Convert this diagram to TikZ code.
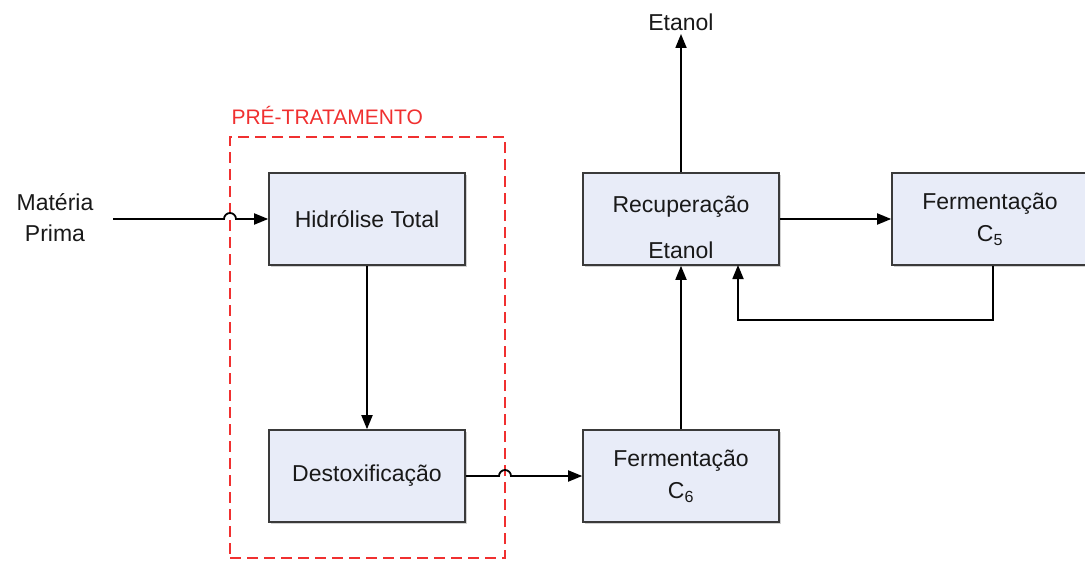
\documentclass[tikz,border=0pt]{standalone}
\usepackage{fontspec}
\setmainfont{Liberation Sans}
\usetikzlibrary{arrows.meta,shadows}
\definecolor{boxfill}{HTML}{E8ECF8}
\definecolor{boxline}{HTML}{3A3A3A}
\definecolor{pretrat}{HTML}{F03030}
\begin{document}
\begin{tikzpicture}[x=1pt,y=-1pt,
  every node/.style={font=\fontsize{23}{28}\selectfont, text=black!90},
  procbox/.style={draw=boxline, line width=1.6pt, fill=boxfill, minimum width=196pt, minimum height=92pt,
    align=center, inner sep=0pt, drop shadow={shadow xshift=2pt, shadow yshift=-2pt, fill=black!30, opacity=0.6}},
  flow/.style={line width=1.8pt, draw=black, -{Triangle[length=14pt,width=11pt]}}]
\useasboundingbox (0,0) rectangle (1085,562);

% pretreatment region
\node[draw=pretrat, dash pattern=on 11pt off 6pt, line width=2.4pt, minimum width=275pt, minimum height=421pt, inner sep=0pt] (pre) at (367.5,347.5) {};
\node[anchor=base west, text=pretrat, font=\fontsize{21}{24}\selectfont] (pretxt) at (228,124) {PRÉ-TRATAMENTO};

% processing blocks
\node[procbox] (hid) at (367,219) {Hidrólise Total};
\node[procbox] (des) at (367,476) {Destoxificação};
\node[procbox] (rec) at (681,219) {};
\node[align=center, inner sep=0pt] (rectxt) at (681,227) {Recuperação\\[18pt]Etanol};
\node[procbox] (c5)  at (990,219) {Fermentação\\[4pt]C\textsubscript{5}};
\node[procbox] (c6)  at (681,476) {Fermentação\\[4pt]C\textsubscript{6}};

% inputs and outputs
\node[align=center, font=\fontsize{23}{31}\selectfont] (mp) at (55,218) {Matéria\\Prima};
\node (eta) at (681,22) {Etanol};
\coordinate (ret) at (993,320);
\coordinate (mpout) at (113,219);

% connectors (line hops where they cross the dashed region)
\draw[flow] (mpout) -- (224,219) arc[start angle=180,end angle=360,radius=6] -- (hid.west);
\draw[flow] (hid.south) -- (des.north);
\draw[flow] (des.east) -- (499,476) arc[start angle=180,end angle=360,radius=6] -- (c6.west);
\draw[flow] (c6.north) -- (rec.south);
\draw[flow] (rec.north) -- (eta.south);
\draw[flow] (rec.east) -- (c5.west);
\draw[flow] (c5.south -| ret) -- (ret) -- (738,320) -- (738,265);
\end{tikzpicture}
\end{document}
